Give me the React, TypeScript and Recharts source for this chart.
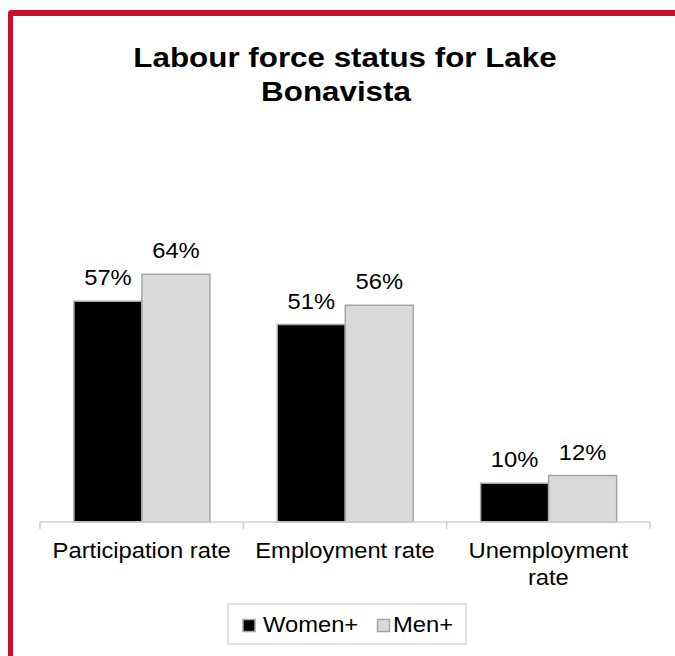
import React from "react";
import { BarChart, Bar, XAxis, YAxis, LabelList, Legend } from "recharts";

const categories = ["Participation rate", "Employment rate", "Unemployment rate"];
const categoryLines = [["Participation rate"], ["Employment rate"], ["Unemployment", "rate"]];
const women = [57, 51, 10];
const men = [64, 56, 12];
const seriesNames = ["Women+", "Men+"];

const data = categories.map((c, i) => ({ name: c, women: women[i], men: men[i] }));

const SX = 1.08;
const FS = 22;
const FONT = "'Liberation Sans', Arial, sans-serif";
const RED = "#C8102E";

const CategoryTick = (props: any) => {
  const { x, y, payload, index } = props;
  const lines = categoryLines[index] || [payload.value];
  const band = 610 / 3;
  return (
    <g>
      <line x1={x - band / 2} y1={y} x2={x - band / 2} y2={y + 7} stroke="#d0d0d0" strokeWidth={1.5} />
      {index === categories.length - 1 && (
        <line x1={x + band / 2} y1={y} x2={x + band / 2} y2={y + 7} stroke="#d0d0d0" strokeWidth={1.5} />
      )}
      {lines.map((l: string, i: number) => (
        <text
          key={i}
          transform={`translate(${x},${y + 36 + i * 27}) scale(${SX},1)`}
          textAnchor="middle"
          fontSize={FS}
          fontFamily={FONT}
          fill="#000"
        >
          {l}
        </text>
      ))}
    </g>
  );
};

const BarLabel = (props: any) => {
  const { x, y, width, value } = props;
  return (
    <text
      transform={`translate(${x + width / 2},${y - 16}) scale(${SX},1)`}
      textAnchor="middle"
      fontSize={FS}
      fontFamily={FONT}
      fill="#000"
    >
      {value}%
    </text>
  );
};

const LegendContent = () => (
  <svg width={240} height={42} style={{ display: "block" }}>
    <rect x={1} y={1} width={238} height={40} fill="#fff" stroke="#d9d9d9" strokeWidth={1.5} />
    <rect x={16} y={16.5} width={12} height={12} fill="#000" stroke="#a6a6a6" strokeWidth={1.5} />
    <text transform={`translate(36,29) scale(${SX},1)`} fontSize={FS} fontFamily={FONT} fill="#000">
      {seriesNames[0]}
    </text>
    <rect x={150.5} y={16.5} width={12} height={12} fill="#d9d9d9" stroke="#a6a6a6" strokeWidth={1.5} />
    <text transform={`translate(166,29) scale(${SX},1)`} fontSize={FS} fontFamily={FONT} fill="#000">
      {seriesNames[1]}
    </text>
  </svg>
);

export default function App() {
  return (
    <div style={{ position: "relative", width: 675, height: 656, background: "#fff", overflow: "hidden" }}>
      <style>{`body{margin:0;overflow:hidden;}`}</style>
      <div
        style={{
          position: "absolute",
          left: 8,
          top: 10,
          width: 700,
          height: 700,
          borderLeft: `5px solid ${RED}`,
          borderTop: `6px solid ${RED}`,
          borderTopLeftRadius: 4,
          boxSizing: "border-box",
        }}
      />
      <svg width={675} height={120} style={{ position: "absolute", left: 0, top: 0 }}>
        <text transform={`translate(345,67) scale(1.12,1)`} textAnchor="middle" fontSize={28} fontWeight="bold" fontFamily={FONT} fill="#000">
          Labour force status for Lake
        </text>
        <text transform={`translate(336,101) scale(1.12,1)`} textAnchor="middle" fontSize={28} fontWeight="bold" fontFamily={FONT} fill="#000">
          Bonavista
        </text>
      </svg>
      <div style={{ position: "absolute", left: 0, top: 0 }}>
        <BarChart
          width={675}
          height={656}
          data={data}
          margin={{ top: 251, right: 25, left: 40, bottom: 11 }}
          barCategoryGap="16.7%"
          barGap={0}
        >
          <XAxis
            dataKey="name"
            height={81}
            tickLine={false}
            tickSize={0}
            tickMargin={0}
            axisLine={{ stroke: "#d0d0d0", strokeWidth: 1.5 }}
            tick={<CategoryTick />}
            interval={0}
          />
          <YAxis hide domain={[0, 70]} />
          <Legend
            verticalAlign="bottom"
            height={42}
            content={<LegendContent />}
            wrapperStyle={{ left: 227, width: 240 }}
          />
          <Bar dataKey="women" name={seriesNames[0]} fill="#000" stroke="#a6a6a6" strokeWidth={1.5} isAnimationActive={false}>
            <LabelList dataKey="women" content={<BarLabel />} />
          </Bar>
          <Bar dataKey="men" name={seriesNames[1]} fill="#d9d9d9" stroke="#a6a6a6" strokeWidth={1.5} isAnimationActive={false}>
            <LabelList dataKey="men" content={<BarLabel />} />
          </Bar>
        </BarChart>
      </div>
    </div>
  );
}
